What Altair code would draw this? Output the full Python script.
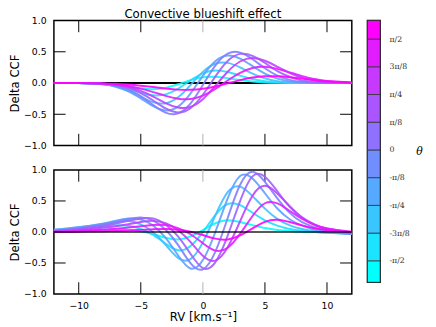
import json
import altair as alt
import pandas as pd

# ---------------- data ----------------
TITLE = "Convective blueshift effect"
X_GRID = [-12, -10, -8, -7, -6, -5, -4, -3, -2, -1, 0, 1, 2, 3, 4, 5, 6, 7, 8, 9, 10, 12]

TOP = [
    [0.0, -0.002, -0.014, -0.032, -0.059, -0.088, -0.099, -0.077, -0.020, 0.046, 0.091, 0.099, 0.078, 0.047, 0.023, 0.009, 0.003, 0.001, 0.0, 0.0, 0.0, 0.0],
    [0.0, -0.002, -0.019, -0.047, -0.098, -0.155, -0.197, -0.182, -0.092, 0.041, 0.154, 0.200, 0.176, 0.119, 0.064, 0.028, 0.010, 0.003, 0.0, 0.0, 0.0, 0.0],
    [0.0, -0.002, -0.022, -0.058, -0.126, -0.220, -0.305, -0.325, -0.229, -0.033, 0.178, 0.308, 0.322, 0.249, 0.152, 0.075, 0.030, 0.011, 0.003, 0.001, 0.0, 0.0],
    [0.0, -0.002, -0.022, -0.059, -0.132, -0.246, -0.370, -0.439, -0.377, -0.169, 0.114, 0.348, 0.439, 0.391, 0.271, 0.152, 0.070, 0.026, 0.008, 0.002, 0.0, 0.0],
    [0.0, -0.001, -0.015, -0.042, -0.106, -0.210, -0.352, -0.473, -0.486, -0.329, -0.033, 0.278, 0.469, 0.487, 0.381, 0.237, 0.120, 0.051, 0.018, 0.005, 0.001, 0.0],
    [0.0, -0.001, -0.010, -0.031, -0.075, -0.160, -0.279, -0.407, -0.470, -0.401, -0.187, 0.103, 0.353, 0.466, 0.435, 0.321, 0.191, 0.100, 0.041, 0.015, 0.004, 0.0],
    [0.0, -0.001, -0.010, -0.026, -0.062, -0.127, -0.217, -0.321, -0.392, -0.381, -0.258, -0.047, 0.181, 0.344, 0.400, 0.356, 0.260, 0.160, 0.086, 0.038, 0.015, 0.002],
    [0.0, -0.001, -0.010, -0.023, -0.049, -0.090, -0.145, -0.205, -0.251, -0.255, -0.202, -0.094, 0.041, 0.164, 0.241, 0.259, 0.227, 0.170, 0.111, 0.064, 0.032, 0.006],
    [0.0, -0.001, -0.006, -0.013, -0.025, -0.043, -0.065, -0.088, -0.106, -0.109, -0.093, -0.055, -0.005, 0.046, 0.087, 0.107, 0.108, 0.093, 0.070, 0.047, 0.028, 0.008],
]

BOTTOM = [
    [0.011, 0.023, 0.040, 0.046, 0.038, 0.011, -0.034, -0.093, -0.120, -0.072, 0.032, 0.141, 0.190, 0.162, 0.110, 0.063, 0.032, 0.015, 0.004, -0.002, -0.006, -0.010],
    [0.026, 0.052, 0.092, 0.108, 0.101, 0.051, -0.048, -0.188, -0.296, -0.226, -0.002, 0.273, 0.451, 0.432, 0.310, 0.188, 0.103, 0.049, 0.019, 0.0, -0.012, -0.022],
    [0.035, 0.075, 0.131, 0.165, 0.178, 0.123, -0.005, -0.207, -0.417, -0.437, -0.168, 0.263, 0.641, 0.732, 0.579, 0.377, 0.212, 0.107, 0.047, 0.008, -0.012, -0.032],
    [0.032, 0.076, 0.139, 0.183, 0.217, 0.201, 0.102, -0.096, -0.376, -0.589, -0.453, -0.004, 0.543, 0.901, 0.861, 0.624, 0.378, 0.205, 0.101, 0.036, 0.0, -0.035],
    [0.022, 0.062, 0.122, 0.162, 0.209, 0.234, 0.184, 0.037, -0.208, -0.502, -0.602, -0.321, 0.225, 0.762, 0.972, 0.808, 0.543, 0.308, 0.158, 0.073, 0.017, -0.030],
    [0.015, 0.049, 0.099, 0.137, 0.181, 0.217, 0.217, 0.118, -0.072, -0.352, -0.582, -0.490, -0.059, 0.498, 0.897, 0.891, 0.657, 0.405, 0.222, 0.110, 0.042, -0.021],
    [0.008, 0.030, 0.070, 0.093, 0.124, 0.160, 0.179, 0.141, 0.029, -0.159, -0.384, -0.461, -0.246, 0.173, 0.584, 0.744, 0.618, 0.416, 0.236, 0.121, 0.056, -0.009],
    [0.003, 0.016, 0.038, 0.051, 0.071, 0.093, 0.112, 0.112, 0.061, -0.037, -0.181, -0.300, -0.253, -0.030, 0.257, 0.463, 0.460, 0.339, 0.209, 0.115, 0.057, 0.001],
    [0.0, 0.005, 0.013, 0.019, 0.026, 0.034, 0.043, 0.048, 0.035, 0.003, -0.049, -0.107, -0.120, -0.055, 0.058, 0.163, 0.197, 0.160, 0.106, 0.060, 0.030, 0.003],
]

CURVE_IDS = list(range(9))
LINE_COLORS = ["#00ffff", "#20dfff", "#40bfff", "#609fff", "#8080ff",
               "#9f60ff", "#bf40ff", "#df20ff", "#ff00ff"]

X_TICKS = [-10, -5, 0, 5, 10]
Y_TICKS = [-1.0, -0.5, 0.0, 0.5, 1.0]
Y_INNER_TICKS = [-0.5, 0.5]

CB_EDGES = [-4.775, -4, -3, -2, -1, 0, 1, 2, 3, 4, 4.67]
CB_TICKS = [-4, -3, -2, -1, 0, 1, 2, 3, 4]
CB_LABELS = ["-π/2", "-3π/8", "-π/4", "-π/8", "0", "π/8", "π/4", "3π/8", "π/2"]
CB_COLORS = ["#00ffff", "#1ce3ff", "#39c6ff", "#55aaff", "#718eff",
             "#8e71ff", "#aa55ff", "#c639ff", "#e31cff", "#ff00ff"]

# ---------------- tables ----------------
def long_table(rows):
    recs = []
    for k, ys in zip(CURVE_IDS, rows):
        for x, y in zip(X_GRID, ys):
            recs.append({"x": x, "y": y, "k": k, "c": LINE_COLORS[k]})
    return pd.DataFrame(recs)

top_df = long_table(TOP)
bot_df = long_table(BOTTOM)
xt_df = pd.DataFrame({"v": X_TICKS})
yt_df = pd.DataFrame({"v": Y_INNER_TICKS})
zero_df = pd.DataFrame({"y": [0.0]})
title_df = pd.DataFrame({"t": [TITLE]})

W, H1, H2 = 305, 128, 127
TICK = 12

xs = alt.Scale(domain=[-12, 12], nice=False, zero=False)
ys = alt.Scale(domain=[-1, 1], nice=False, zero=False)

yaxis = alt.Axis(values=Y_TICKS, format=".1f", ticks=False, domain=False, grid=False,
                 title="Delta CCF", labelPadding=8, titlePadding=2)


def panel(df, xaxis, h, zero_color, zero_opacity, zero_top, with_title=False):
    lines = alt.Chart(df).mark_line(strokeWidth=2, interpolate="natural", opacity=0.9).encode(
        x=alt.X("x:Q", scale=xs, axis=xaxis),
        y=alt.Y("y:Q", scale=ys, axis=yaxis),
        color=alt.Color("c:N", scale=None),
        detail="k:O",
    )
    zero = alt.Chart(zero_df).mark_rule(color=zero_color, strokeWidth=2, opacity=zero_opacity).encode(
        y=alt.Y("y:Q", scale=ys, axis=yaxis)
    )
    tick_col = alt.condition("datum.v == 0", alt.value("#b0b0b0"), alt.value("black"))
    xt_top = alt.Chart(xt_df).mark_rule(strokeWidth=1).encode(
        x=alt.X("v:Q", scale=xs, axis=xaxis), y=alt.value(0), y2=alt.value(TICK), color=tick_col)
    xt_bot = alt.Chart(xt_df).mark_rule(strokeWidth=1).encode(
        x=alt.X("v:Q", scale=xs, axis=xaxis), y=alt.value(h), y2=alt.value(h - TICK), color=tick_col)
    yt_l = alt.Chart(yt_df).mark_rule(strokeWidth=1, color="black").encode(
        y=alt.Y("v:Q", scale=ys, axis=yaxis), x=alt.value(0), x2=alt.value(TICK))
    yt_r = alt.Chart(yt_df).mark_rule(strokeWidth=1, color="black").encode(
        y=alt.Y("v:Q", scale=ys, axis=yaxis), x=alt.value(W), x2=alt.value(W - TICK))
    layers = [xt_top, xt_bot, yt_l, yt_r]
    layers += [lines, zero] if zero_top else [zero, lines]
    if with_title:
        ttl = alt.Chart(title_df).mark_text(fontSize=12, font="DejaVu Sans", baseline="middle",
                                            align="center", color="black").encode(
            text="t:N", x=alt.value(W / 2), y=alt.value(-7))
        layers.append(ttl)
    return alt.layer(*layers).properties(width=W, height=h)


xaxis_top = alt.Axis(values=X_TICKS, labels=False, ticks=False, domain=False, grid=False, title=None)
xaxis_bot = alt.Axis(values=X_TICKS, ticks=False, domain=False, grid=False,
                     title="RV [km.s⁻¹]", labelPadding=7, titlePadding=2)

top = panel(top_df, xaxis_top, H1, "black", 1.0, False, with_title=True)
bottom = panel(bot_df, xaxis_bot, H2, "black", 0.65, True)

left = alt.vconcat(top, bottom, spacing=13)

# ---------------- colorbar ----------------
cb_df = pd.DataFrame({"lo": CB_EDGES[:-1], "hi": CB_EDGES[1:], "c": CB_COLORS})
label_expr = json.dumps(CB_LABELS, ensure_ascii=False) + "[datum.value + 4]"
cb_axis = alt.Axis(orient="right", values=CB_TICKS, labelExpr=label_expr, ticks=False, domain=False,
                   grid=False, labelPadding=9, labelFontSize=8, labelFont="DejaVu Serif",
                   labelColor="#333333",
                   title="θ", titleAngle=0, titleFont="DejaVu Serif", titleFontStyle="italic",
                   titleFontSize=11, titleFontWeight="normal", titlePadding=10, titleBaseline="middle")
cbar = alt.Chart(cb_df).mark_rect(stroke="#333333", strokeWidth=0.8).encode(
    y=alt.Y("lo:Q", scale=alt.Scale(domain=[CB_EDGES[0], CB_EDGES[-1]], nice=False, zero=False), axis=cb_axis),
    y2="hi:Q",
    x=alt.value(0), x2=alt.value(13),
    color=alt.Color("c:N", scale=None),
).properties(width=13, height=268)

chart = alt.hconcat(left, cbar, spacing=9).properties(
    padding={"left": 0, "top": -5, "right": 5, "bottom": 0}, background="white"
).configure_view(stroke="black", strokeWidth=1.5).configure_axis(
    labelFont="DejaVu Sans", titleFont="DejaVu Sans", labelColor="black", titleColor="black",
    titleFontWeight="normal", labelFontSize=9.5, titleFontSize=12
)

chart.save("out.html", embed_options={"renderer": "svg", "actions": False})
